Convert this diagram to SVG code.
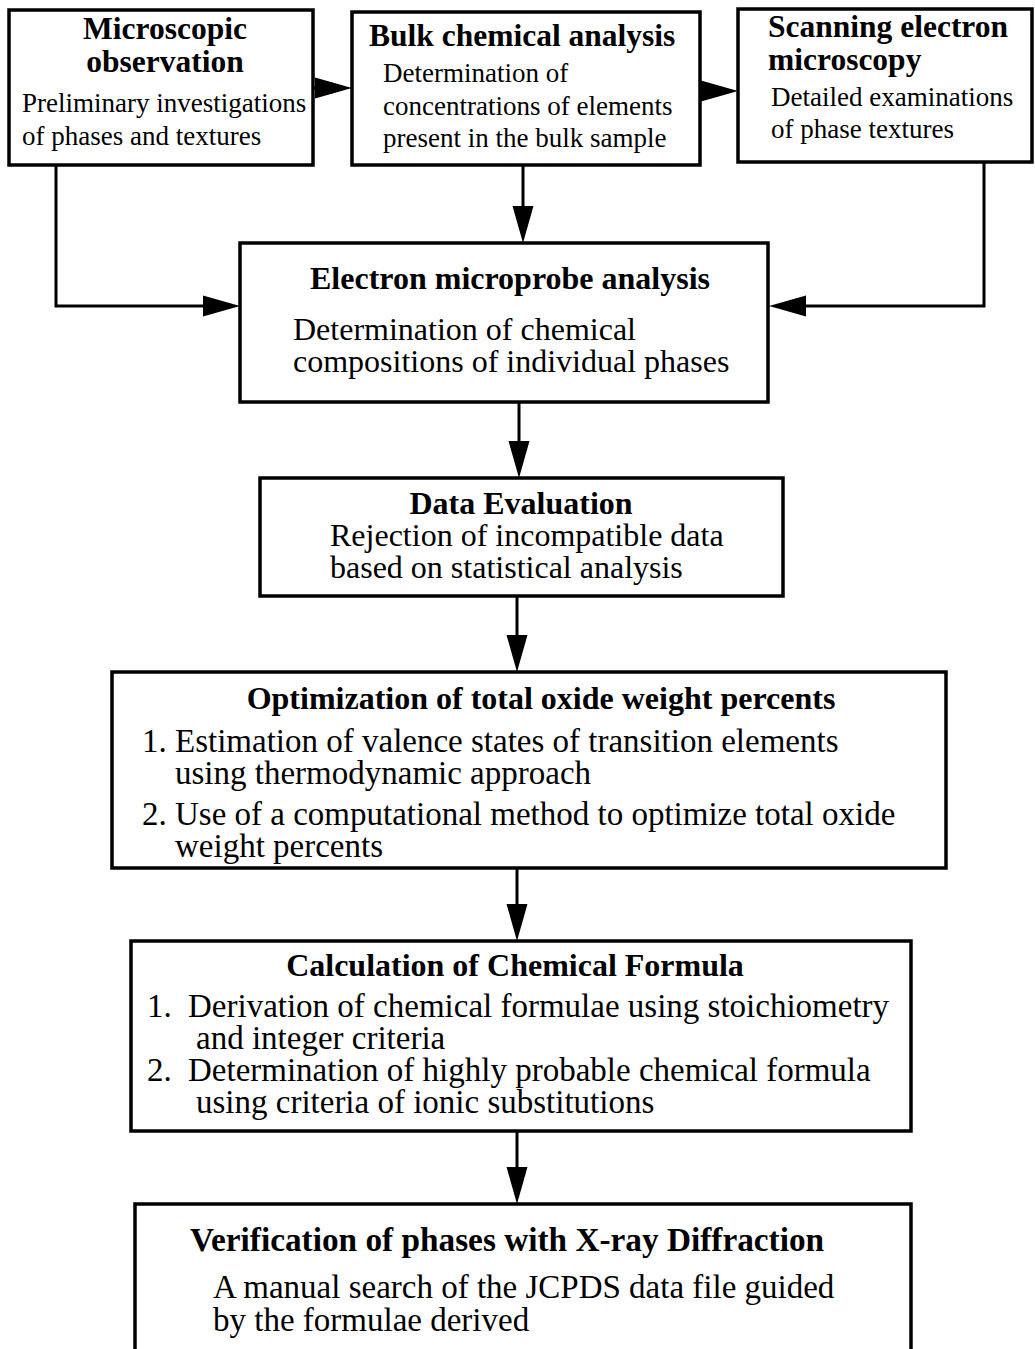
<svg xmlns="http://www.w3.org/2000/svg" width="1035" height="1349" viewBox="0 0 1035 1349">
<style>
  .box { fill: #fff; stroke: #000; stroke-width: 3.5; }
  .con { fill: none; stroke: #000; stroke-width: 3; }
  text { font-family: "Liberation Serif", "Times New Roman", serif; fill: #000; }
  .tt { font-weight: bold; font-size: 31.5px; }
  .tb { font-size: 27px; }
  .t { font-weight: bold; font-size: 32px; }
  .b { font-size: 32px; }
  .b2 { font-size: 33px; }
  .t2 { font-weight: bold; font-size: 33.3px; }
  .c { text-anchor: middle; }
</style>
<defs>
  <marker id="ah" markerUnits="userSpaceOnUse" markerWidth="37" markerHeight="21" refX="7" refY="10.5" orient="auto" overflow="visible">
    <path d="M0,0 L37,10.5 L0,21 Z" fill="#000"/>
  </marker>
</defs>
<rect width="1035" height="1349" fill="#fff"/>

<g id="connectors">
  <path class="con" d="M313,88 H322" marker-end="url(#ah)"/>
  <path class="con" d="M700,91 H708" marker-end="url(#ah)"/>
  <path class="con" d="M523,165 V213" marker-end="url(#ah)"/>
  <path class="con" d="M56,165 V306 H210" marker-end="url(#ah)"/>
  <path class="con" d="M984,162 V306 H799" marker-end="url(#ah)"/>
  <path class="con" d="M519,402 V448" marker-end="url(#ah)"/>
  <path class="con" d="M517,596 V642" marker-end="url(#ah)"/>
  <path class="con" d="M517,868 V911" marker-end="url(#ah)"/>
  <path class="con" d="M517,1131 V1174" marker-end="url(#ah)"/>
</g>

<g id="microscopic">
  <rect class="box" x="9" y="10" width="304" height="155"/>
  <text class="tt c" x="165" y="39">Microscopic</text>
  <text class="tt c" x="165" y="72">observation</text>
  <text class="tb" x="22" y="112">Preliminary investigations</text>
  <text class="tb" x="22" y="145">of phases and textures</text>
</g>

<g id="bulk">
  <rect class="box" x="352" y="12" width="348" height="153"/>
  <text class="tt" x="369" y="46">Bulk chemical analysis</text>
  <text class="tb" x="383" y="82">Determination of</text>
  <text class="tb" x="383" y="115">concentrations of elements</text>
  <text class="tb" x="383" y="147">present in the bulk sample</text>
</g>

<g id="sem">
  <rect class="box" x="738" y="9" width="294" height="153"/>
  <text class="tt" x="768" y="37">Scanning electron</text>
  <text class="tt" x="768" y="70">microscopy</text>
  <text class="tb" x="771" y="106">Detailed examinations</text>
  <text class="tb" x="771" y="138">of phase textures</text>
</g>

<g id="empa">
  <rect class="box" x="240" y="243" width="528" height="159"/>
  <text class="t c" x="510" y="289">Electron microprobe analysis</text>
  <text class="b" x="293" y="340">Determination of chemical</text>
  <text class="b" x="293" y="372">compositions of individual phases</text>
</g>

<g id="data">
  <rect class="box" x="260" y="478" width="523" height="118"/>
  <text class="t c" x="521" y="514">Data Evaluation</text>
  <text class="b" x="330" y="546">Rejection of incompatible data</text>
  <text class="b" x="330" y="578">based on statistical analysis</text>
</g>

<g id="optimization">
  <rect class="box" x="112" y="672" width="834" height="196"/>
  <text class="t c" x="541" y="709">Optimization of total oxide weight percents</text>
  <text class="b2" x="142" y="752">1. Estimation of valence states of transition elements</text>
  <text class="b2" x="175" y="784">using thermodynamic approach</text>
  <text class="b2" x="142" y="825">2. Use of a computational method to optimize total oxide</text>
  <text class="b2" x="175" y="857">weight percents</text>
</g>

<g id="calculation">
  <rect class="box" x="131" y="941" width="780" height="190"/>
  <text class="t c" x="515" y="976">Calculation of Chemical Formula</text>
  <text class="b2" x="147" y="1017">1.</text>
  <text class="b2" x="188" y="1017">Derivation of chemical formulae using stoichiometry</text>
  <text class="b2" x="196" y="1049">and integer criteria</text>
  <text class="b2" x="147" y="1081">2.</text>
  <text class="b2" x="188" y="1081">Determination of highly probable chemical formula</text>
  <text class="b2" x="196" y="1113">using criteria of ionic substitutions</text>
</g>

<g id="verification">
  <path class="box" d="M135,1360 V1204 H911 V1360"/>
  <text class="t2" x="190" y="1251">Verification of phases with X-ray Diffraction</text>
  <text class="b2" x="213" y="1298">A manual search of the JCPDS data file guided</text>
  <text class="b2" x="213" y="1331">by the formulae derived</text>
</g>
</svg>
